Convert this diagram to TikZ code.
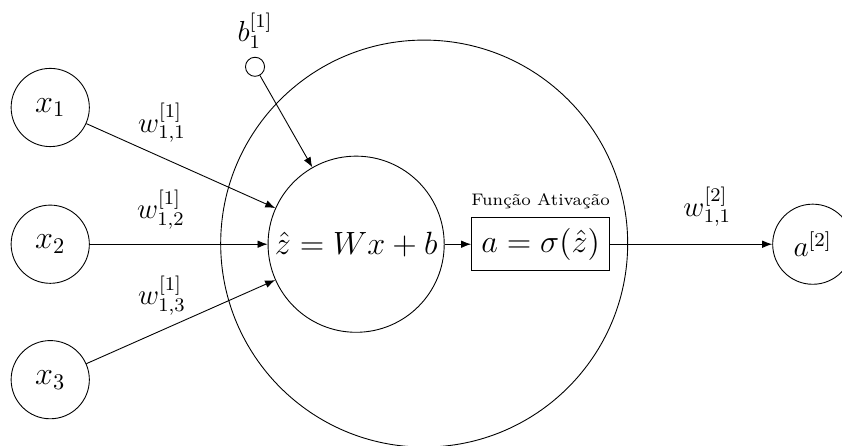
\documentclass[tikz,border=0pt]{standalone}
\usetikzlibrary{positioning,arrows.meta}

\begin{document}
\begin{tikzpicture}[
    neuron/.style={
        circle,
        draw,
        minimum size=1.23cm,
        inner sep=0pt,
        font=\Large
    },
    arrow/.style={
        -{Latex[length=4.5pt,width=3.4pt]}
    },
    weight/.style={
        above=3pt,
        font=\large,
        scale=1.08
    }
]

\useasboundingbox (0,0) rectangle (13.24,-7.0);

% inputs
\node[neuron] (x1) at (0.79,-1.69) {$x_1$};
\node[neuron] (x2) at (0.79,-3.84) {$x_2$};
\node[neuron] (x3) at (0.79,-5.97) {$x_3$};

% neuron body
\node[circle, draw, minimum size=6.4cm] (body) at (6.67,-3.83) {};
\node[circle, draw, minimum size=2.77cm, inner sep=0pt, font=\Large] (sum) at (5.60,-3.84)
{$\hat{z} = Wx + b$};
\node[rectangle, draw, minimum width=2.17cm, minimum height=0.83cm, font=\Large] (act) at (8.50,-3.84)
{$a = \sigma(\hat{z})$};
\node[above=0pt of act, font=\scriptsize, scale=1.07] (actlabel) {Função Ativação};

% bias
\node[circle, draw, minimum size=0.30cm, inner sep=0pt] (bias) at (4.01,-1.05) {};
\node[above=0pt of bias, font=\large, scale=1.08] (blabel) {$b_1^{[1]}$};

% output
\node[circle, draw, minimum size=1.26cm, inner sep=0pt, font=\large] (out) at (12.78,-3.84)
{\scalebox{1.1}{$a^{[2]}$}};

\draw[arrow] (x1) -- node[pos=0.4, weight] {$w^{[1]}_{1,1}$} (sum);
\draw[arrow] (x2) -- node[pos=0.4, weight] {$w^{[1]}_{1,2}$} (sum);
\draw[arrow] (x3) -- node[pos=0.4, weight] {$w^{[1]}_{1,3}$} (sum);
\draw[arrow] (bias) -- (sum);
\draw[arrow] (sum) -- (act);
\draw[arrow] (act) -- node[pos=0.6, weight, above=4pt] {$w^{[2]}_{1,1}$} (out);

\end{tikzpicture}
\end{document}
